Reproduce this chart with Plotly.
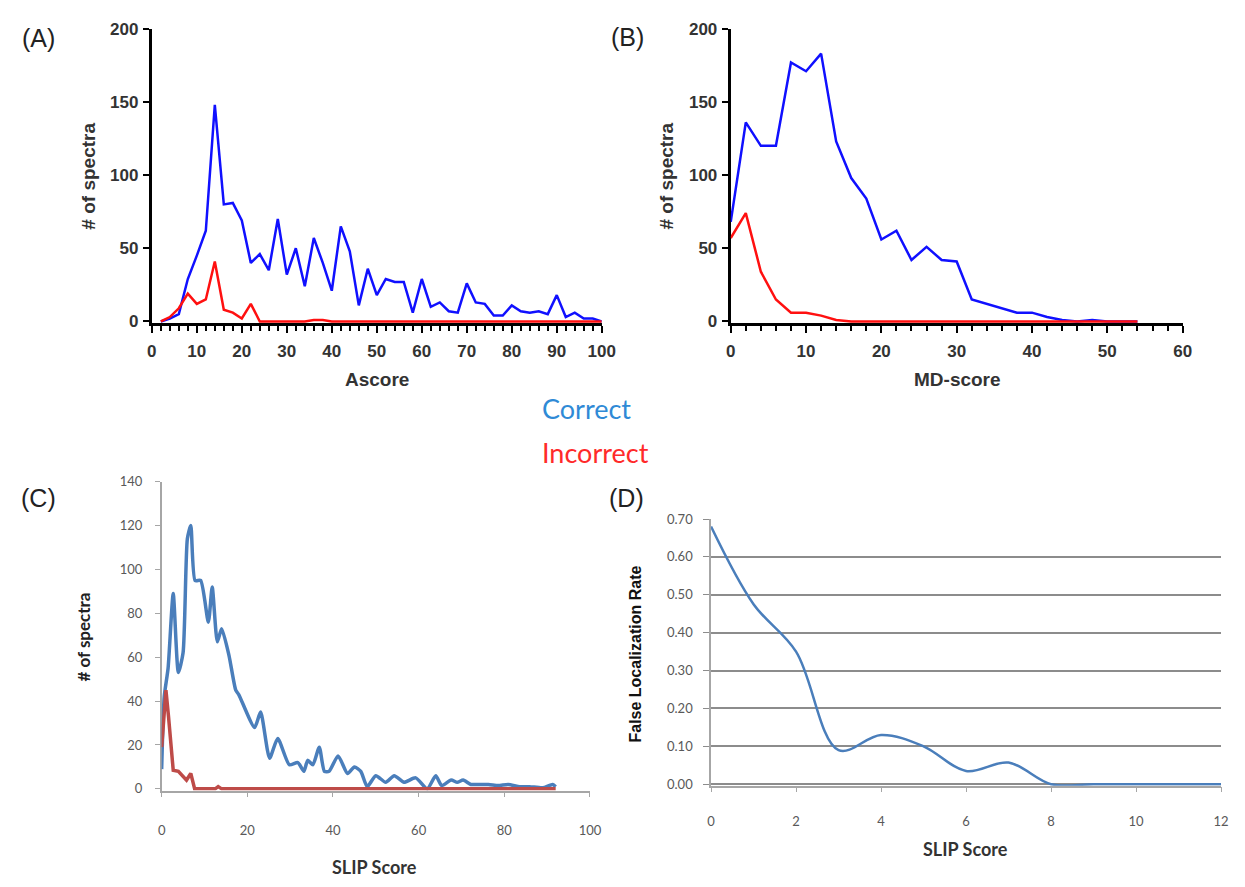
import plotly.graph_objects as go

# page is 1245x887; the browser body keeps an 8px margin, so the figure is 16px smaller
PAGE_W, PAGE_H = 1245, 887
MARGIN = 8
W, H = PAGE_W - 2 * MARGIN, PAGE_H - 2 * MARGIN

# ---------------- Data ----------------
# Panel A (Ascore)
a_x = [2, 4, 6, 8, 10, 12, 14, 16, 18, 20, 22, 24, 26, 28, 30, 32, 34, 36, 38, 40,
       42, 44, 46, 48, 50, 52, 54, 56, 58, 60, 62, 64, 66, 68, 70, 72, 74, 76, 78, 80,
       82, 84, 86, 88, 90, 92, 94, 96, 98, 100]
a_correct = [0, 2, 5, 29, 45, 62, 148, 80, 81, 69, 40, 46, 35, 70, 32, 50, 24, 57, 40, 21,
             65, 48, 11, 36, 18, 29, 27, 27, 6, 29, 10, 13, 7, 6, 26, 13, 12, 4, 4, 11,
             7, 6, 7, 5, 18, 3, 6, 2, 2, 0]
a_incorrect = [0, 3, 9, 19, 12, 15, 41, 8, 6, 2, 12, 0, 0, 0, 0, 0, 0, 1, 1, 0,
               0, 0, 0, 0, 0, 0, 0, 0, 0, 0, 0, 0, 0, 0, 0, 0, 0, 0, 0, 0,
               0, 0, 0, 0, 0, 0, 0, 0, 0, 0]

# Panel B (MD-score)
b_x = [0, 2, 4, 6, 8, 10, 12, 14, 16, 18, 20, 22, 24, 26, 28, 30, 32, 34, 36, 38,
       40, 42, 44, 46, 48, 50, 52, 54]
b_correct = [68, 136, 120, 120, 177, 171, 183, 123, 98, 84, 56, 62, 42, 51, 42, 41, 15, 12, 9, 6,
             6, 3, 1, 0, 1, 0, 0, 0]
b_incorrect = [57, 74, 34, 15, 6, 6, 4, 1, 0, 0, 0, 0, 0, 0, 0, 0, 0, 0, 0, 0,
               0, 0, 0, 0, 0, 0, 0, 0]

# Panel C (SLIP score histogram)
c_correct_x = [0, 0.6, 1.5, 2.7, 3.9, 5, 6, 6.8, 7.8, 9.1, 10.9, 11.8, 13, 14, 15.7, 17.3, 18,
               21.7, 23.1, 25.2, 27.1, 29.8, 31.8, 33.2, 34.1, 35.3, 36.8, 38, 39.1, 41.2,
               43.4, 45, 46.5, 48, 50, 52.3, 54.3, 56.6, 59.3, 62, 64, 65.4, 67.6, 69, 70.4,
               72.2, 73.6, 76.3, 78.6, 80.9, 83.6, 85.9, 89, 91.3, 92]
c_correct_y = [9, 42, 55, 89, 53, 62, 114, 120, 95, 95, 76, 92, 67, 73, 61, 45, 43,
               28, 35, 14, 23, 11, 12, 8, 13, 11, 19, 8, 8, 15,
               7, 10, 8, 1, 6, 3, 6, 3, 5, 0, 6, 1.5, 4, 3, 4,
               2, 2, 2, 1.5, 2, 1, 1, 0.5, 2, 1]
c_incorrect_x = [0, 1, 1.6, 2.7, 3.9, 5, 5.8, 6.8, 7.7, 12.5, 13.2, 14, 92]
c_incorrect_y = [19, 45, 33, 8.5, 8, 5.6, 4, 7, 0, 0, 1, 0, 0]

# Panel D (false localization rate)
d_x = [0, 1, 2, 3, 4, 5, 6, 7, 8, 9, 10, 11, 12]
d_flr = [0.68, 0.475, 0.35, 0.09, 0.13, 0.10, 0.035, 0.057, 0.0, 0.0, 0.0, 0.0, 0.0]

# ---------------- Styles ----------------
BLUE_AB = "#1010ff"
RED_AB = "#ff1010"
BLUE_C = "#4a7ebb"
RED_C = "#be4b48"


def px_x(p):
    return min(1.0, max(0.0, (p - MARGIN) / W))


def px_y(p):
    return min(1.0, max(0.0, 1 - (p - MARGIN) / H))


fig = go.Figure()

fig.add_trace(go.Scatter(x=a_x, y=a_correct, mode="lines", line=dict(color=BLUE_AB, width=2.5),
                         xaxis="x", yaxis="y", showlegend=False))
fig.add_trace(go.Scatter(x=a_x, y=a_incorrect, mode="lines", line=dict(color=RED_AB, width=2.5),
                         xaxis="x", yaxis="y", showlegend=False))
fig.add_trace(go.Scatter(x=b_x, y=b_correct, mode="lines", line=dict(color=BLUE_AB, width=2.5),
                         xaxis="x2", yaxis="y2", showlegend=False))
fig.add_trace(go.Scatter(x=b_x, y=b_incorrect, mode="lines", line=dict(color=RED_AB, width=2.5),
                         xaxis="x2", yaxis="y2", showlegend=False))
fig.add_trace(go.Scatter(x=c_correct_x, y=c_correct_y, mode="lines",
                         line=dict(color=BLUE_C, width=3.5, shape="spline", smoothing=0.6),
                         xaxis="x3", yaxis="y3", showlegend=False))
fig.add_trace(go.Scatter(x=c_incorrect_x, y=c_incorrect_y, mode="lines",
                         line=dict(color=RED_C, width=3.5),
                         xaxis="x3", yaxis="y3", showlegend=False))
fig.add_trace(go.Scatter(x=d_x, y=d_flr, mode="lines",
                         line=dict(color=BLUE_C, width=2.5, shape="spline", smoothing=1.0),
                         xaxis="x4", yaxis="y4", showlegend=False))

ab_tickfont = dict(family="Liberation Sans, Arial", size=17, color="#333333", weight="bold")
cd_tickfont = dict(family="Lato, Open Sans", size=13, color="#595959")

ab_common = dict(showline=True, linewidth=3, linecolor="black", ticks="outside",
                 tickwidth=2, tickcolor="black", showgrid=False, zeroline=False,
                 tickfont=ab_tickfont, layer="below traces")

fig.update_layout(
    width=W, height=H, margin=dict(l=0, r=0, t=0, b=0),
    paper_bgcolor="white", plot_bgcolor="white",
    xaxis=dict(domain=[px_x(149), px_x(606)], range=[0, 100], anchor="y", dtick=10, ticklen=7,
               minor=dict(dtick=2, ticks="outside", ticklen=5, tickwidth=2, tickcolor="black"),
               ticklabelstandoff=4, **ab_common),
    yaxis=dict(domain=[px_y(320), px_y(20)], range=[-1, 200], anchor="x", ticklen=6,
               tickvals=[0, 50, 100, 150, 200], ticklabelstandoff=1, **ab_common),
    xaxis2=dict(domain=[px_x(737), px_x(1196)], range=[0, 60], anchor="y2", dtick=10, ticklen=7,
                minor=dict(dtick=2, ticks="outside", ticklen=5, tickwidth=2, tickcolor="black"),
                ticklabelstandoff=4, **ab_common),
    yaxis2=dict(domain=[px_y(320), px_y(20)], range=[-1, 200], anchor="x2", ticklen=6,
                tickvals=[0, 50, 100, 150, 200], ticklabelstandoff=1, **ab_common),
    xaxis3=dict(domain=[px_x(159), px_x(594)], range=[0, 100], anchor="y3", dtick=20,
                showline=True, linewidth=1.5, linecolor="#a6a6a6", ticks="outside", ticklen=5,
                tickcolor="#a6a6a6", showgrid=False, zeroline=False, tickfont=cd_tickfont,
                ticklabelstandoff=22, layer="below traces"),
    yaxis3=dict(domain=[px_y(797), px_y(482)], range=[-0.8, 140], anchor="x3",
                tickvals=[0, 20, 40, 60, 80, 100, 120, 140],
                showline=True, linewidth=1.5, linecolor="#a6a6a6", ticks="outside", ticklen=5,
                tickcolor="#a6a6a6", showgrid=False, zeroline=False, tickfont=cd_tickfont,
                ticklabelstandoff=10, layer="below traces"),
    xaxis4=dict(domain=[px_x(717), px_x(1235)], range=[0, 12], anchor="y4", dtick=2,
                showline=True, linewidth=1.5, linecolor="#a6a6a6", ticks="outside", ticklen=5,
                tickcolor="#a6a6a6", showgrid=False, zeroline=False, tickfont=cd_tickfont,
                ticklabelstandoff=18, layer="below traces"),
    yaxis4=dict(domain=[px_y(792), px_y(520)], range=[-0.004, 0.70], anchor="x4",
                tickvals=[0, 0.1, 0.2, 0.3, 0.4, 0.5, 0.6, 0.7], tickformat=".2f",
                showline=True, linewidth=1.5, linecolor="#a6a6a6", ticks="outside", ticklen=6,
                tickcolor="#8c8c8c", showgrid=True, gridcolor="#8c8c8c", gridwidth=1.5,
                zeroline=False, tickfont=cd_tickfont, ticklabelstandoff=8, layer="below traces"),
)

annotations = []


def add_text(text, xp, yp, size, color="#222222", family="Liberation Sans, Arial", bold=False,
             angle=0):
    annotations.append(dict(
        text=text, x=px_x(xp), y=px_y(yp), xref="paper", yref="paper",
        xanchor="center", yanchor="middle", showarrow=False, textangle=angle,
        font=dict(size=size, color=color, family=family, weight="bold" if bold else "normal")))


# panel labels
add_text("(A)", 34, 29, 25)
add_text("(B)", 632, 28, 25)
add_text("(C)", 34, 499, 25)
add_text("(D)", 631, 499, 25)

# axis titles A/B
add_text("# of spectra", 85, 170, 19, color="#333333", bold=True, angle=-90)
add_text("Ascore", 378, 378, 19, color="#333333", bold=True)
add_text("# of spectra", 672, 170, 19, color="#333333", bold=True, angle=-90)
add_text("MD-score", 967, 378, 19, color="#333333", bold=True)

# axis titles C/D
add_text("# of spectra", 80, 640, 17, color="#222222", family="Lato, Open Sans", bold=True, angle=-90)
add_text("SLIP Score", 375, 875, 18, color="#333333", family="Lato, Open Sans", bold=True)
add_text("False Localization Rate", 640, 658, 16, color="#111111", bold=True, angle=-90)
add_text("SLIP Score", 975, 857, 18, color="#333333", family="Lato, Open Sans", bold=True)

# legend texts
add_text("Correct", 590, 407, 27, color="#2f8ad6", family="Lato, Open Sans")
add_text("Incorrect", 600, 452, 27, color="#ff2a2a", family="Lato, Open Sans")

fig.update_layout(annotations=annotations)

fig.write_html("out.html", config={"displayModeBar": False})
